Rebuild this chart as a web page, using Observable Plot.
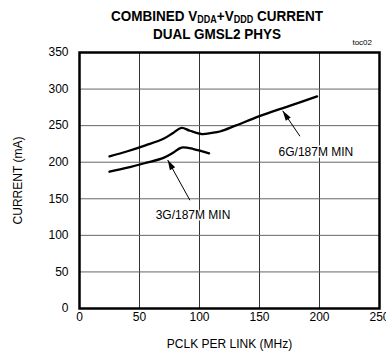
<!DOCTYPE html>
<html>
<head>
<meta charset="utf-8">
<script src="https://cdn.jsdelivr.net/npm/d3@7"></script>
<script src="https://cdn.jsdelivr.net/npm/@observablehq/plot@0.6"></script>
<style>
  body { margin: 0; background: #fff; font-family: "Liberation Sans", Arial, sans-serif; }
  #wrap { position: relative; width: 386px; height: 358px; }
  #title { position: absolute; left: 217px; top: 7px; transform: translateX(-50%) scaleX(0.9); text-align: center; font-weight: bold; font-size: 15px; line-height: 18px; white-space: nowrap; color: #000; z-index: 2; }
  #title .l1 { display: block; height: 18px; }
  #title sub { font-size: 10px; vertical-align: -2px; line-height: 0; }
  #toc { position: absolute; right: 14px; top: 38px; font-size: 8px; line-height: 9px; color: #000; z-index: 2; }
  #chart { position: absolute; left: 0; top: 44px; z-index: 1; }
</style>
</head>
<body>
<div id="wrap">
  <div id="title"><span class="l1">COMBINED V<sub>DDA</sub>+V<sub>DDD</sub> CURRENT</span>DUAL GMSL2 PHYS</div>
  <div id="toc">toc02</div>
  <div id="chart"></div>
</div>
<script>
const xTicks = [0, 50, 100, 150, 200, 250];
const yTicks = [0, 50, 100, 150, 200, 250, 300, 350];

const g6X = [25, 40, 55, 70, 78, 85, 92, 102, 110, 117, 130, 150, 175, 198];
const g6Y = [208, 215, 223, 232, 240, 247, 243, 238.5, 240, 242, 250, 263, 277, 290];

const g3X = [25, 40, 55, 70, 78, 85, 95, 108];
const g3Y = [187, 192.5, 199, 206, 213, 220, 218, 212];

const labelText = ["6G/187M MIN", "3G/187M MIN"];
const labelX = [197, 94.6];
const labelY = [213.5, 127.5];
const arrowFromX = [183.7, 92];
const arrowFromY = [235.5, 148];
const arrowToX = [169.3, 73.5];
const arrowToY = [270.3, 203];

const series = [
  ...g6X.map((x, i) => ({x, y: g6Y[i], s: "6G"})),
  ...g3X.map((x, i) => ({x, y: g3Y[i], s: "3G"}))
];
const labels = labelText.map((t, i) => ({t, x: labelX[i], y: labelY[i]}));
const arrows = labelText.map((t, i) => ({x1: arrowFromX[i], y1: arrowFromY[i], x2: arrowToX[i], y2: arrowToY[i]}));

function filledArrow(color, context) {
  const ns = "http://www.w3.org/2000/svg";
  const doc = context.document;
  const m = doc.createElementNS(ns, "marker");
  m.setAttribute("viewBox", "-9 -3 10 6");
  m.setAttribute("markerWidth", "10");
  m.setAttribute("markerHeight", "6");
  m.setAttribute("markerUnits", "userSpaceOnUse");
  m.setAttribute("orient", "auto");
  m.setAttribute("overflow", "visible");
  const p = doc.createElementNS(ns, "path");
  p.setAttribute("d", "M0,0L-10,-3L-10,3Z");
  p.setAttribute("fill", color);
  p.setAttribute("stroke", "none");
  m.appendChild(p);
  return m;
}

const chart = Plot.plot({
  width: 386,
  height: 314,
  marginTop: 8,
  marginLeft: 79,
  marginRight: 7,
  marginBottom: 50,
  style: {fontFamily: "'Liberation Sans', Arial, sans-serif", fontSize: "12px", color: "#000", background: "transparent", overflow: "visible"},
  x: {domain: [0, 250], ticks: xTicks, tickSize: 0, tickPadding: 4, label: "PCLK PER LINK (MHz)", labelAnchor: "center", labelArrow: "none", labelOffset: 39},
  y: {domain: [0, 350], ticks: yTicks, tickSize: 0, tickPadding: 11, label: "CURRENT (mA)", labelAnchor: "center", labelArrow: "none", labelOffset: 66},
  marks: [
    Plot.gridX(xTicks, {stroke: "#333", strokeOpacity: 1, strokeWidth: 1}),
    Plot.gridY(yTicks, {stroke: "#666", strokeOpacity: 1, strokeWidth: 1}),
    Plot.frame({stroke: "#000", strokeWidth: 2.5}),
    Plot.line(series, {x: "x", y: "y", z: "s", curve: "catmull-rom", stroke: "#000", strokeWidth: 2.3}),
    Plot.link(arrows, {x1: "x1", y1: "y1", x2: "x2", y2: "y2", stroke: "#000", strokeWidth: 1, markerEnd: filledArrow}),
    Plot.text(labels, {x: "x", y: "y", text: "t", fontSize: 12, fill: "#000", stroke: "#fff", strokeWidth: 3})
  ]
});
document.getElementById("chart").appendChild(chart);
</script>
</body>
</html>
